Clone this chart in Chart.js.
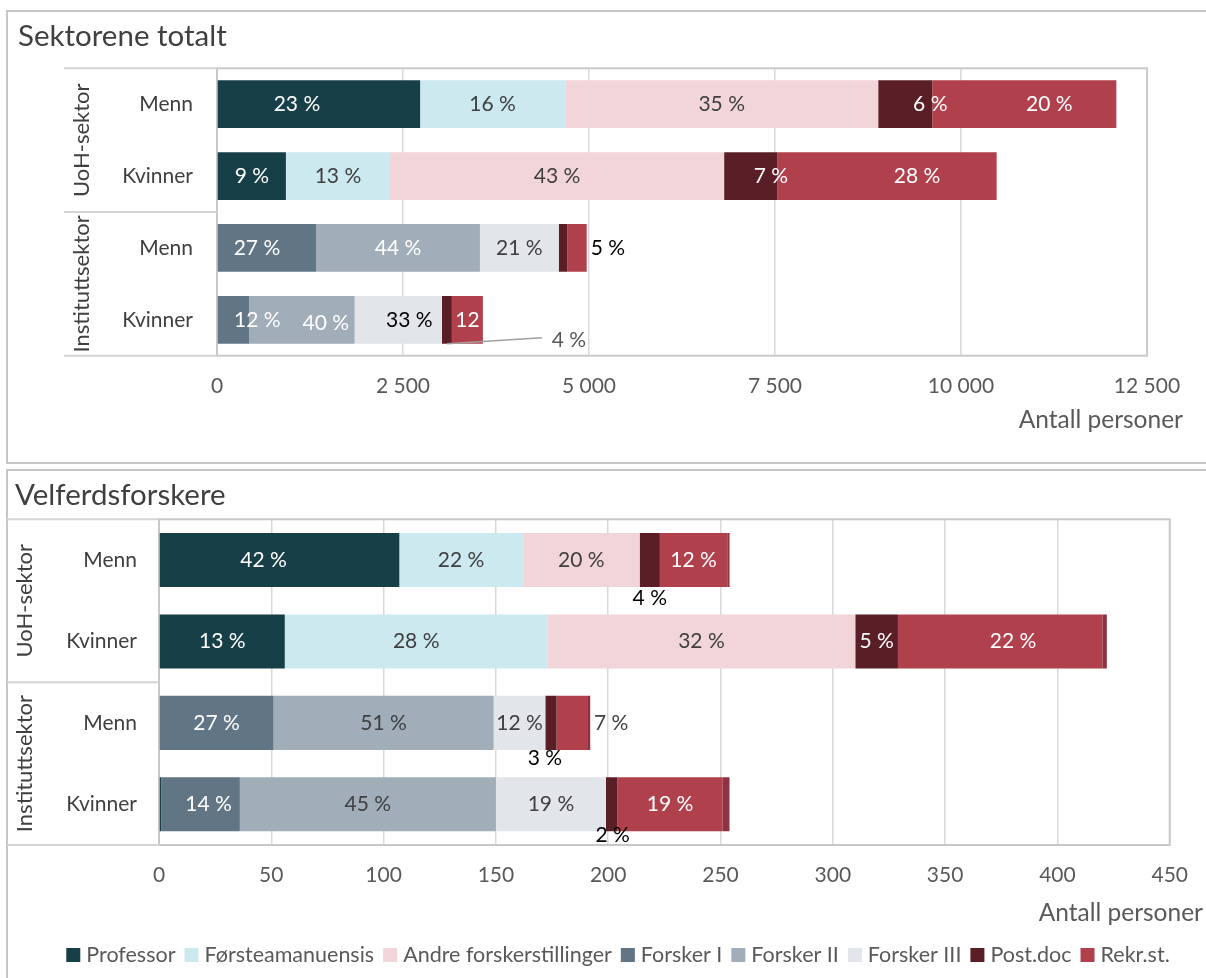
<!DOCTYPE html>
<html>
<head>
<meta charset="utf-8">
<script src="https://cdn.jsdelivr.net/npm/chart.js@4.4.1/dist/chart.umd.min.js"></script>
<style>
body { margin: 0; background: #fff; width: 1206px; height: 978px; overflow: hidden; position: relative; }
.panel { position: absolute; left: 6px; width: 1210px; border: 2px solid #c6c6c6; box-sizing: border-box; }
canvas { position: absolute; left: 0; }
</style>
</head>
<body>
<div class="panel" style="top:10px;height:454px"></div>
<div class="panel" style="top:469px;height:520px"></div>
<canvas id="totalChart" width="1206" height="466" style="top:0"></canvas>
<canvas id="velferdChart" width="1206" height="512" style="top:466px"></canvas>
<script>
// categories: UoH Menn, UoH Kvinner, Institutt Menn, Institutt Kvinner
const categories = ['Menn', 'Kvinner', 'Menn', 'Kvinner'];
const groups = ['UoH-sektor', 'Instituttsektor'];
const seriesNames = ['Professor', 'Førsteamanuensis', 'Andre forskerstillinger', 'Forsker I',
    'Forsker II', 'Forsker III', 'Post.doc', 'Rekr.st.', 'Annet'];
const seriesColors = ['#173f48', '#cbe9ee', '#f2d5d9', '#627585', '#a1adb9', '#e2e6ea',
    '#5a1f26', '#b1404d', '#8e3441'];
const legendCount = 8; // "Annet" is not in the legend

// Sektorene totalt (antall personer)
const totalProfessor   = [2730,  926,    0,    0];
const totalForsteam    = [1950, 1400,    0,    0];
const totalAndre       = [4207, 4490,    0,    0];
const totalForskerI    = [   0,    0, 1332,  430];
const totalForskerII   = [   0,    0, 2202, 1420];
const totalForskerIII  = [   0,    0, 1059, 1174];
const totalPostdoc     = [ 728,  718,  114,  133];
const totalRekr        = [2473, 2945,  262,  417];
const totalAnnet       = [   0,    0,    0,    0];
const totalTicks = [0, 2500, 5000, 7500, 10000, 12500];

// Velferdsforskere (antall personer)
const velProfessor  = [107,  56,  0,   1];
const velForsteam   = [ 55, 117,  0,   0];
const velAndre      = [ 52, 137,  0,   0];
const velForskerI   = [  0,   0, 51,  35];
const velForskerII  = [  0,   0, 98, 114];
const velForskerIII = [  0,   0, 23,  49];
const velPostdoc    = [  9,  19,  5,   5];
const velRekr       = [ 30,  91, 14,  47];
const velAnnet      = [  1,   2,  1,   3];
const velTicks = [0, 50, 100, 150, 200, 250, 300, 350, 400, 450];

const WHITE = '#ffffff', DARK = '#404040', BLACK = '#000000';

function fmt(v) {
    return String(v).replace(/\B(?=(\d{3})+(?!\d))/g, ' ');
}

const decorPlugin = {
    id: 'decor',
    beforeDatasetsDraw(chart, args, opts) {
        const {ctx, chartArea: a} = chart;
        const y = chart.scales.y;
        ctx.save();
        ctx.strokeStyle = '#c8c8c8';
        ctx.lineWidth = 2;
        ctx.strokeRect(a.left, a.top, a.right - a.left, a.bottom - a.top);
        const mid = (y.getPixelForTick(1) + y.getPixelForTick(2)) / 2;
        ctx.strokeStyle = '#d4d4d4';
        [a.top, mid, a.bottom].forEach(py => {
            ctx.beginPath();
            ctx.moveTo(opts.lineLeft, py);
            ctx.lineTo(a.left, py);
            ctx.stroke();
        });
        ctx.restore();
    },
    afterDraw(chart, args, opts) {
        const {ctx} = chart;
        const y = chart.scales.y;
        ctx.save();
        ctx.textBaseline = 'middle';
        // title
        ctx.fillStyle = '#404040';
        ctx.font = '29.5px Lato';
        ctx.textAlign = 'left';
        ctx.fillText(opts.title, opts.titleX, opts.titleY);
        // axis title
        ctx.fillStyle = '#595959';
        ctx.font = '24.5px Lato';
        ctx.textAlign = 'right';
        ctx.fillText('Antall personer', opts.axisTitleRight, opts.axisTitleY);
        // category labels
        ctx.fillStyle = '#404040';
        ctx.font = '21px Lato';
        categories.forEach((c, i) => {
            ctx.fillText(c, opts.catRight, y.getPixelForTick(i));
        });
        // group labels
        ctx.font = '22px Lato';
        ctx.textAlign = 'center';
        groups.forEach((g, gi) => {
            const cy = (y.getPixelForTick(gi * 2) + y.getPixelForTick(gi * 2 + 1)) / 2;
            ctx.save();
            ctx.translate(opts.groupX, cy);
            ctx.rotate(-Math.PI / 2);
            ctx.fillText(g, 0, 0);
            ctx.restore();
        });
        // legend
        if (opts.legendY) {
            ctx.font = '21.5px Lato';
            ctx.textAlign = 'left';
            const sets = chart.data.datasets.slice(0, legendCount);
            const widths = sets.map(ds => 14 + 6 + ctx.measureText(ds.label).width);
            const total = widths.reduce((s, w) => s + w, 0) + 9 * (sets.length - 1);
            let x = opts.legendCenter - total / 2;
            sets.forEach((ds, k) => {
                ctx.fillStyle = ds.backgroundColor;
                ctx.fillRect(x, opts.legendY - 7, 14, 14);
                ctx.fillStyle = '#595959';
                ctx.fillText(ds.label, x + 20, opts.legendY);
                x += widths[k] + 9;
            });
        }
        ctx.restore();
    }
};

const segLabelPlugin = {
    id: 'segLabels',
    afterDatasetsDraw(chart, args, opts) {
        const ctx = chart.ctx;
        const sets = chart.data.datasets;
        ctx.save();
        ctx.font = '21px Lato';
        ctx.textBaseline = 'middle';
        sets.forEach((ds, di) => {
            const meta = chart.getDatasetMeta(di);
            meta.data.forEach((bar, i) => {
                const v = ds.data[i];
                if (!v) return;
                const spec = Object.assign({color: opts.colors[di]}, opts.overrides[di + ':' + i] || {});
                if (!spec.color || spec.hide) return;
                const total = sets.reduce((s, d) => s + d.data[i], 0);
                const text = spec.text || Math.round(v / total * 100) + ' %';
                const p = bar.getProps(['x', 'y', 'base', 'height'], true);
                const segX = (p.x + p.base) / 2;
                let cx = segX + (spec.dx || 0);
                const cy = p.y + (spec.dy || 0);
                ctx.textAlign = 'center';
                if (spec.right) {
                    ctx.textAlign = 'left';
                    cx = p.x + spec.right;
                }
                if (spec.leader) {
                    ctx.strokeStyle = '#a0a0a0';
                    ctx.lineWidth = 1.5;
                    ctx.beginPath();
                    ctx.moveTo(segX, p.y + p.height / 2);
                    ctx.lineTo(segX + spec.leader[0], p.y + spec.leader[1]);
                    ctx.stroke();
                }
                ctx.fillStyle = spec.color;
                ctx.fillText(text, cx, cy);
            });
        });
        ctx.restore();
    }
};

function buildDatasets(values) {
    return values.map((data, k) => ({
        label: seriesNames[k],
        data: data,
        backgroundColor: seriesColors[k],
        borderWidth: 0,
        barPercentage: 0.664,
        categoryPercentage: 1
    }));
}

function makeChart(canvas, values, ticks, setup) {
    return new Chart(canvas, {
        type: 'bar',
        data: {
            labels: categories,
            datasets: buildDatasets(values)
        },
        options: {
            indexAxis: 'y',
            responsive: false,
            animation: false,
            devicePixelRatio: 1,
            layout: {padding: setup.padding},
            scales: {
                x: {
                    stacked: true,
                    min: ticks[0],
                    max: ticks[ticks.length - 1],
                    border: {display: false},
                    grid: {color: '#d9d9d9', lineWidth: 1.5, drawTicks: false},
                    ticks: {
                        stepSize: ticks[1] - ticks[0],
                        padding: 18,
                        color: '#595959',
                        font: {size: 21},
                        callback: v => fmt(v)
                    },
                    afterFit: s => { s.height = setup.xHeight; }
                },
                y: {
                    stacked: true,
                    border: {display: false},
                    grid: {display: false},
                    ticks: {display: false},
                    afterFit: s => { s.width = setup.yWidth; }
                }
            },
            plugins: {
                legend: {display: false},
                tooltip: {enabled: false},
                decor: setup.decor,
                segLabels: setup.labels
            }
        },
        plugins: [decorPlugin, segLabelPlugin]
    });
}

function draw() {
    Chart.defaults.font.family = 'Lato';

    makeChart(document.getElementById('totalChart'),
        [totalProfessor, totalForsteam, totalAndre, totalForskerI, totalForskerII,
         totalForskerIII, totalPostdoc, totalRekr, totalAnnet],
        totalTicks,
        {
            padding: {left: 0, right: 59, top: 68.3, bottom: 0},
            xHeight: 110.3,
            yWidth: 217,
            decor: {title: 'Sektorene totalt', titleX: 18, titleY: 36, lineLeft: 64,
                    groupX: 82, catRight: 193, axisTitleRight: 1183, axisTitleY: 420},
            labels: {
                colors: [WHITE, DARK, DARK, WHITE, WHITE, DARK, WHITE, WHITE, null],
                overrides: {
                    '0:0': {dx: -22},
                    '6:0': {dx: 25},
                    '7:0': {dx: 25},
                    '6:1': {dx: 20},
                    '7:1': {dx: 30},
                    '3:2': {dx: -10},
                    '6:2': {hide: true},
                    '7:2': {right: 4, color: BLACK},
                    '3:3': {dx: 24},
                    '4:3': {dx: 24, dy: 3},
                    '5:3': {dx: 11, color: BLACK},
                    '6:3': {dx: 122, dy: 20, color: '#595959', leader: [95, 18]},
                    '7:3': {text: '12'}
                }
            }
        });

    makeChart(document.getElementById('velferdChart'),
        [velProfessor, velForsteam, velAndre, velForskerI, velForskerII,
         velForskerIII, velPostdoc, velRekr, velAnnet],
        velTicks,
        {
            padding: {left: 70.5, right: 23.5, top: 53.3, bottom: 0},
            xHeight: 133,
            yWidth: 88.5,
            decor: {title: 'Velferdsforskere', titleX: 15, titleY: 29, lineLeft: 7,
                    groupX: 25, catRight: 137, axisTitleRight: 1203, axisTitleY: 447,
                    legendCenter: 618, legendY: 489},
            labels: {
                colors: [WHITE, DARK, DARK, WHITE, DARK, DARK, WHITE, WHITE, null],
                overrides: {
                    '0:0': {dx: -16},
                    '6:0': {dy: 38, color: BLACK},
                    '7:1': {dx: 13},
                    '6:2': {dx: -6, dy: 35, color: BLACK},
                    '7:2': {right: 6, color: DARK},
                    '0:3': {hide: true},
                    '3:3': {dx: 8},
                    '6:3': {dx: 1, dy: 31, color: BLACK}
                }
            }
        });
}

if (document.fonts && document.fonts.load) {
    Promise.all([document.fonts.load('20px Lato'), document.fonts.load('28px Lato')])
        .then(draw, draw);
} else {
    draw();
}
</script>
</body>
</html>
